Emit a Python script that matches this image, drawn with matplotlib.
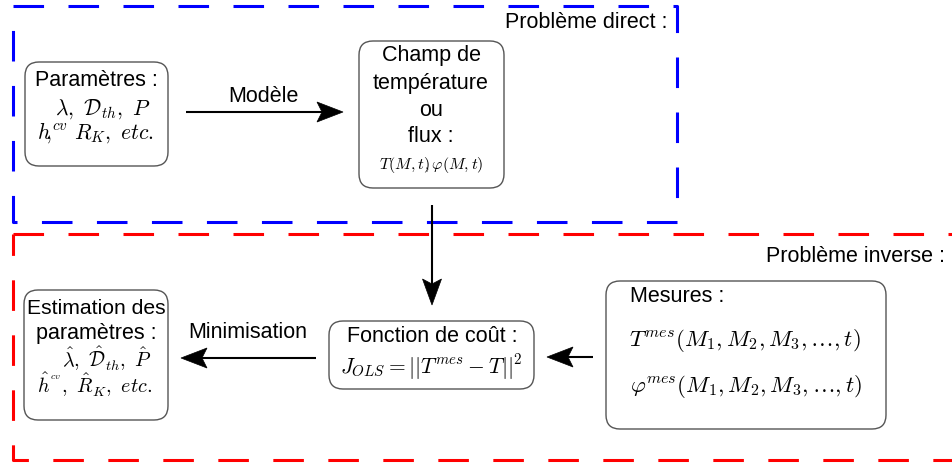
import matplotlib
matplotlib.use("Agg")
import numpy as np
import matplotlib.pyplot as plt
from matplotlib.patches import FancyBboxPatch, Polygon

plt.rcParams['font.family'] = ['Liberation Sans', 'DejaVu Sans']
plt.rcParams['mathtext.fontset'] = 'cm'

# Texts of the diagram
region_titles = ["Problème direct :", "Problème inverse :"]
params_lines = ["Paramètres :", r"$\lambda,\ \mathcal{D}_{th},\ P$",
                r"$h^{cv}\!\!\!\!\!\!\!,\ \ \ R_K,\ etc.$"]
champ_lines = ["Champ de", "température", "ou", "flux :", r"$T(M,t)\!\!,\varphi(M,t)$"]
estim_lines = ["Estimation des", "paramètres :", r"$\hat{\lambda},\ \hat{\mathcal{D}}_{th},\ \hat{P}$",
               r"$\hat{h}^{^{cv}},\ \hat{R}_K,\ etc.$"]
cout_lines = ["Fonction de coût :", r"$J_{OLS} = ||T^{mes} - T||^2$"]
mesures_lines = ["Mesures :", r"$T^{mes}(M_1, M_2, M_3, \ldots, t)$",
                 r"$\varphi^{mes}(M_1, M_2, M_3, \ldots, t)$"]
arrow_labels = ["Modèle", "Minimisation"]

W, H = 952, 466
fig = plt.figure(figsize=(W / 100, H / 100), dpi=100)
ax = fig.add_axes([0, 0, 1, 1])
ax.set_xlim(0, W)
ax.set_ylim(H, 0)
ax.axis('off')

FS = 15.5
dash = (0, (10, 8))

# Dashed region boxes
ax.plot([13, 677, 677, 13, 13], [6, 6, 222, 222, 6], color='#0000ff', lw=2.2,
        linestyle=dash, clip_on=False)
ax.plot([13, 990], [234, 234], color='#ff0000', lw=2.2, linestyle=dash)
ax.plot([13, 13, 990], [234, 460, 460], color='#ff0000', lw=2.2, linestyle=(3, (10, 8)))

ax.text(586, 22, region_titles[0], fontsize=FS, ha='center', va='center')
ax.text(945, 257, region_titles[1], fontsize=FS, ha='right', va='center')


def rbox(x0, y0, x1, y1):
    p = FancyBboxPatch((x0, y0), x1 - x0, y1 - y0,
                       boxstyle="round,pad=0,rounding_size=14",
                       fc='white', ec='#555555', lw=1.0)
    ax.add_patch(p)


rbox(25, 62, 168, 166)
rbox(359, 41, 504, 188)
rbox(24, 290, 168, 420)
rbox(329, 321, 534, 389)
rbox(606, 281, 886, 429)

# Paramètres
ax.text(96, 80, params_lines[0], fontsize=FS, ha='center', va='center')
ax.text(103, 109, params_lines[1], fontsize=FS, ha='center', va='center')
ax.text(95, 133, params_lines[2], fontsize=FS, ha='center', va='center')

# Champ
for t, y in zip(champ_lines[:4], [56, 83, 110, 137]):
    ax.text(431, y, t, fontsize=FS, ha='center', va='center')
ax.text(431, 165, champ_lines[4], fontsize=11.5, ha='center', va='center')

# Estimation
ax.text(96, 308, estim_lines[0], fontsize=FS - 0.3, ha='center', va='center')
ax.text(96, 334, estim_lines[1], fontsize=FS, ha='center', va='center')
ax.text(107, 367, estim_lines[2], fontsize=14.5, ha='center', va='baseline')
ax.text(95, 393, estim_lines[3], fontsize=14.5, ha='center', va='baseline')

# Fonction de coût
ax.text(432, 337, cout_lines[0], fontsize=FS, ha='center', va='center')
ax.text(431, 367, cout_lines[1], fontsize=FS, ha='center', va='center')

# Mesures
ax.text(630, 297, mesures_lines[0], fontsize=FS, ha='left', va='center')
ax.text(745, 341, mesures_lines[1], fontsize=FS + 1, ha='center', va='center')
ax.text(746, 387, mesures_lines[2], fontsize=FS + 1, ha='center', va='center')


def arrow(x0, y0, x1, y1, hl=26, hw=10, notch=5):
    p0 = np.array([x0, y0], float)
    p1 = np.array([x1, y1], float)
    d = (p1 - p0) / np.linalg.norm(p1 - p0)
    n = np.array([-d[1], d[0]])
    back = p1 - d * hl
    c1 = back + n * hw
    c2 = back - n * hw
    nb = back + d * notch
    ax.plot([p0[0], nb[0]], [p0[1], nb[1]], color='black', lw=1.5,
            solid_capstyle='butt')
    ax.add_patch(Polygon([p1, c1, nb, c2], closed=True, fc='black', ec='black', lw=0.5))


arrow(186, 112, 343, 112)
ax.text(263, 96, arrow_labels[0], fontsize=FS, ha='center', va='center')
arrow(432, 205, 432, 305, hl=26, hw=9.5)
arrow(593, 357, 547, 357)
arrow(316, 358, 181, 358)
ax.text(248, 333, arrow_labels[1], fontsize=FS, ha='center', va='center')

fig.savefig("out.png", dpi=100)
